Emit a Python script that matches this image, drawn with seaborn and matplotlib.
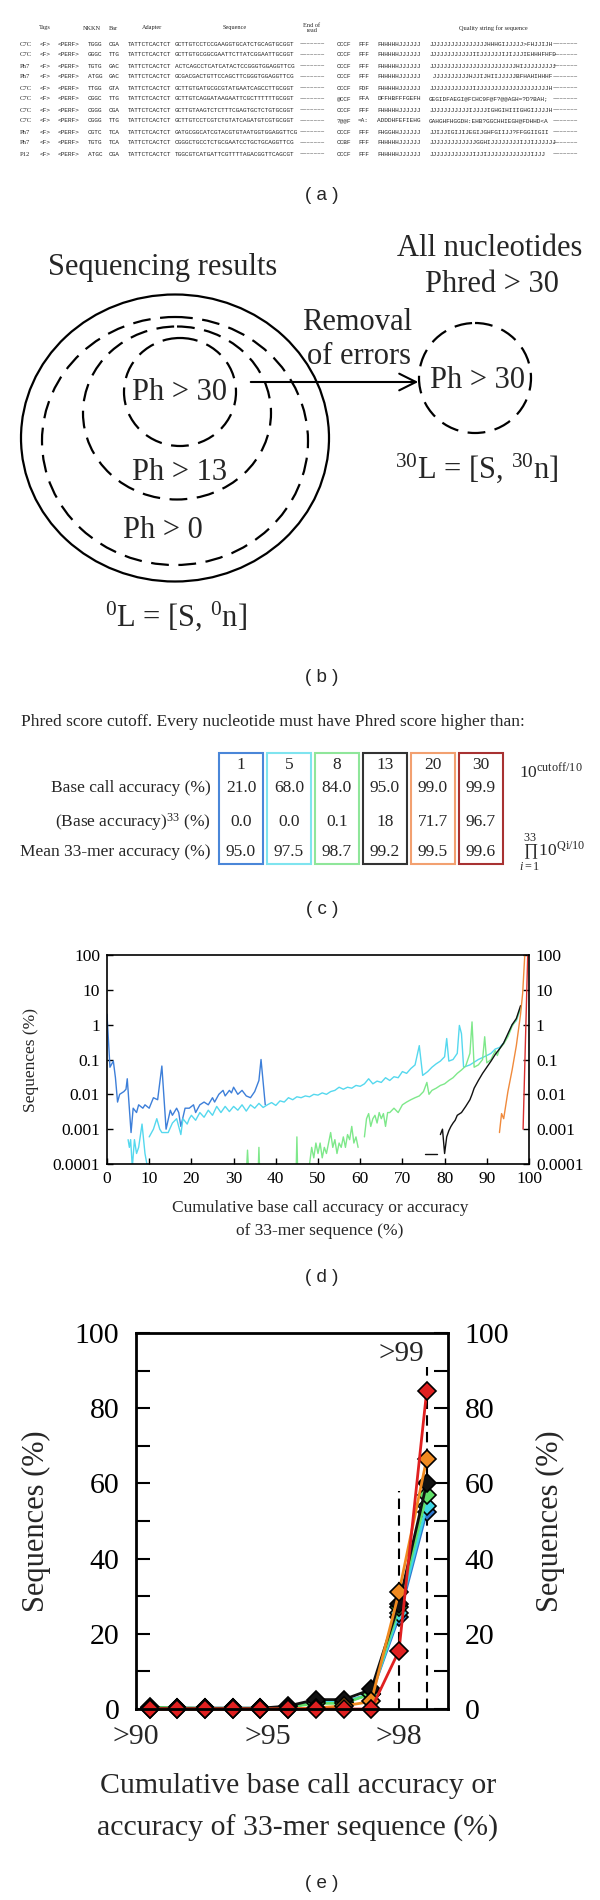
import matplotlib
matplotlib.use("Agg")
import matplotlib.pyplot as plt
from matplotlib.patches import Ellipse, Rectangle
from matplotlib.ticker import MultipleLocator
import seaborn as sns
import pandas as pd
import numpy as np

sns.set_theme(style="white")
plt.rcParams['font.family'] = ['Liberation Serif', 'DejaVu Serif']
plt.rcParams['mathtext.fontset'] = 'custom'
plt.rcParams['mathtext.rm'] = 'Liberation Serif'
plt.rcParams['mathtext.it'] = 'Liberation Serif:italic'

# ---------------- panel (a): sequencing reads
row_tags = ["C7C", "C7C", "Ph7", "Ph7", "C7C", "C7C", "C7C", "C7C", "Ph7", "Ph7", "P12"]
row_nkkn = ["TGGG", "GGGC", "TGTG", "ATGG", "TTGG", "CGGC", "CGGG", "CGGG", "CGTC", "TGTG", "ATGC"]
row_bar = ["CGA", "TTG", "GAC", "GAC", "GTA", "TTG", "CGA", "TTG", "TCA", "TCA", "CGA"]
row_seq = ["GCTTGTCCTCCGAAGGTGCATCTGCAGTGCGGT", "GCTTGTGCGGCGAATTCTTATCGGAATTGCGGT",
           "ACTCAGCCTCATCATACTCCGGGTGGAGGTTCG", "GCGACGACTGTTCCAGCTTCGGGTGGAGGTTCG",
           "GCTTGTGATGCGCGTATGAATCAGCCTTGCGGT", "GCTTGTCAGGATAAGAATTCGCTTTTTTGCGGT",
           "GCTTGTAAGTCTCTTTCGAGTGCTCTGTGCGGT", "GCTTGTCCTCGTCTGTATCAGATGTCGTGCGGT",
           "GATGCGGCATCGTACGTGTAATGGTGGAGGTTCG", "CGGGCTGCCTCTGCGAATCCTGCTGCAGGTTCG",
           "TGGCGTCATGATTCGTTTTAGACGGTTCAGCGT"]
row_q1 = ["CCCF", "CCCF", "CCCF", "CCCF", "CCCF", "@CCF", "CCCF", "?@@F", "CCCF", "CCBF", "CCCF"]
row_q2 = ["FFF", "FFF", "FFF", "FFF", "FDF", "FFA", "FFF", "=A:", "FFF", "FFF", "FFF"]
row_q3 = ["FHHHHHJJJJJJ", "FHHHHHJJJJJJ", "FHHHHHJJJJJJ", "FHHHHHJJJJJJ", "FHHHHHJJJJJJ",
          "DFFHBFFFGEFH", "FHHHHHJJJJJJ", "ADDDHFEFIEHG", "FHGGHHJJJJJJ", "FHHHHHJJJJJJ",
          "FHHHHHJJJJJJ"]
row_qual = ["JJJJJJJJJJJJJJJJHHHGIJJJJJ>FHJJIJH", "JJJJJJJJJJJJIIJJJJJJIJIJJJIEHHHFHFD",
            "JJJJJJJJJJJJJJJJJJJJJJJJHIJJJJJJJJJ", " JJJJJJJJJJHJJIJHIIJJJJJBFHAHIHHHF",
            "JJJJJJJJJJJJIJJJJJJJJJJJJJJJJJJJJH", "GEGIDFAEGI@FCHC9F@F?@@AGH=?D?BAH;",
            "JJJJJJJJJJJIJJJJIGHGIHIIIGHGIJJJJH", "GAHGHFHGGDH:EHB?GGCHHIEGH@FDHHD<A",
            "JJIJJIGIJIJEGIJGHFGIIJJ?FFGGIIGII", "JJJJJJJJJJJJJGGHIJJJJJJJJIJJIJJJJJJ",
            "JJJJJJJJJJJJIJJIJJJJJJJJJJJJIJJJ"]

# ---------------- panel (c): cutoff table
cutoffs = ["1", "5", "8", "13", "20", "30"]
base_call_acc = ["21.0", "68.0", "84.0", "95.0", "99.0", "99.9"]
base_acc_33 = ["0.0", "0.0", "0.1", "18", "71.7", "96.7"]
mean_33mer = ["95.0", "97.5", "98.7", "99.2", "99.5", "99.6"]
cut_colors = ["#4a86d8", "#7fe4ef", "#8fe69a", "#333333", "#f2a070", "#a83232"]

# ---------------- panel (d): sequence distribution per cutoff (NaN = gap)
nan = np.nan
d1_x = [0, 0.7, 1.5, 2, 2.5, 3, 4, 4.5, 4.8, 5.7, 6.2, 7, 7.5, 8.5, 9, 10, 11, 12, 13, 14, 15,
        15.5, 16.5, 17, 17.5, 18.5, 19.5, 20.5, 21, 22, 23, 24, 25, 25.5, 26.5, 27.5, 28, 29,
        29.5, 30, 31, 32, 33, 34, 35, 36, 36.5, 37.5]
d1_y = [2, 0.06, 0.09, 0.03, 0.006, 0.01, 0.012, 0.014, 0.028, 0.0008, 0.004, 0.003, 0.005,
        0.004, 0.005, 0.004, 0.008, 0.007, 0.065, 0.001, 0.0035, 0.0025, 0.004, 0.003, 0.0012,
        0.004, 0.004, 0.005, 0.003, 0.005, 0.006, 0.005, 0.008, 0.006, 0.01, 0.013, 0.009,
        0.013, 0.011, 0.016, 0.01, 0.013, 0.009, 0.008, 0.012, 0.025, 0.1, 0.005]
d5_x = [5, 5.3, 5.6, 6, 6.5, 7, 7.5, 8.3, 9, 9.6, nan,
        10, 11, 11.8, 12.5, 13, 14, 14.5, 15.5, 16.5, 17.5, 18, 19, 19.5, 20, 21, 22, 23, 24,
        25, 26, 27, 28, 29, 30, 31, 32, 33, 34, 35, 36, 37, 38, 39, 40, 41, 42, 43, 44, 45,
        46, 47, 48, 49, 50, 51, 52, 53, 54, 55, 56, 57, 58, 59, 60, 61, 62, 63, 64, 65, 66,
        67, 68, 69, 70, 71, 72, 73, 74, 74.8, 76, 77, 78, 79, 80, 80.5, 81, 82, 83, 83.5, 84,
        84.5, 86, 88, 90, 91, 92, 93, 94, 95, 96, 97, 98]
d5_y = [0.0005, 0.0003, 0.0005, 0.00008, 0.0005, 0.0002, 0.0003, 0.0014, 0.0002, 0.00008, nan,
        0.0006, 0.001, 0.002, 0.001, 0.0008, 0.0008, 0.0008, 0.0015, 0.002, 0.0007, 0.002,
        0.0014, 0.002, 0.0025, 0.0018, 0.003, 0.0022, 0.0035, 0.0025, 0.0045, 0.003, 0.0045,
        0.0032, 0.0045, 0.0035, 0.005, 0.0033, 0.005, 0.004, 0.0055, 0.0042, 0.005, 0.0058,
        0.0048, 0.0065, 0.006, 0.008, 0.007, 0.0085, 0.008, 0.009, 0.0085, 0.01, 0.0095,
        0.011, 0.01, 0.012, 0.013, 0.016, 0.014, 0.016, 0.015, 0.018, 0.017, 0.02, 0.028,
        0.02, 0.024, 0.022, 0.03, 0.025, 0.032, 0.03, 0.045, 0.04, 0.055, 0.07, 0.25, 0.035,
        0.045, 0.06, 0.075, 0.09, 0.12, 0.4, 0.09, 0.1, 0.15, 0.95, 0.55, 0.06, 0.07, 0.1,
        0.13, 0.15, 0.2, 0.22, 0.3, 0.5, 1.0, 1.3, 3.0]
d8_x = [33, 33.3, 33.6, nan, 35.8, 36, 36.2, nan, 44.8, 45, 45.2, nan,
        48, 48.5, 49, 49.5, 50, 50.5, 51, 51.5, 52, 52.5, 53, 53.5, 54, 54.5, 55, 55.5, 56,
        56.5, 57, 57.5, 58, 58.5, 59, 59.5, nan,
        61, 61.5, 62, 62.5, 63, 63.5, 64, 64.5, 65, 65.5, 66, 66.5, 67, 68, 69, 70, 71, 72,
        73, 74, 75, 75.8, 76.3, 77, 78, 79, 80, 81, 82, 83, 84, 85, 86, 86.5, 87, 88, 89,
        89.5, 90, 91, 92, 92.5, 93, 94, 95, 96, 97, 98]
d8_y = [0.00005, 0.00025, 0.00005, nan, 0.00005, 0.0003, 0.00005, nan, 0.00005, 0.0006,
        0.00005, nan,
        0.0001, 0.0003, 0.00015, 0.0004, 0.0002, 0.0004, 0.00015, 0.0003, 0.0002, 0.0004,
        0.0008, 0.0003, 0.0005, 0.0002, 0.0004, 0.0003, 0.0006, 0.0003, 0.0007, 0.0005,
        0.0012, 0.0004, 0.0006, 0.0003, nan,
        0.0006, 0.002, 0.0028, 0.0012, 0.002, 0.0025, 0.0015, 0.003, 0.002, 0.0028, 0.0012,
        0.003, 0.003, 0.004, 0.003, 0.005, 0.006, 0.007, 0.008, 0.009, 0.012, 0.022, 0.01,
        0.013, 0.015, 0.018, 0.02, 0.025, 0.03, 0.04, 0.05, 0.065, 0.15, 1.2, 0.06, 0.07,
        0.1, 0.45, 0.08, 0.1, 0.18, 0.13, 0.2, 0.28, 0.45, 0.9, 1.4, 3.0]
d13_x = [75.4, 78.2, nan, 79, 79.5, 80, 80.5, 81, 81.5, 82, 82.5, 83, 84, 85, 86, 86.5, 87,
         88, 89, 90, 91, 92, 93, 94, 95, 96, 97, 98]
d13_y = [0.0002, 0.0002, nan, 0.0007, 0.001, 0.0002, 0.0006, 0.0009, 0.0012, 0.0015, 0.0018,
         0.0025, 0.003, 0.0045, 0.007, 0.01, 0.015, 0.025, 0.04, 0.06, 0.09, 0.14, 0.2, 0.3,
         0.55, 1.0, 1.5, 3.5]
d20_x = [93, 93.5, 94, 95, 96, 97, 98, 98.5, 99]
d20_y = [0.0008, 0.0028, 0.002, 0.012, 0.05, 0.25, 2, 8, 100]
d30_x = [98.6, 99.7]
d30_y = [0.001, 100]
d_colors = ["#3d7fd9", "#55d8ee", "#7ee88a", "#111111", "#f08a3c", "#d93030"]
d_ticks = [0.0001, 0.001, 0.01, 0.1, 1, 10, 100]
d_ticklabels = ["0.0001", "0.001", "0.01", "0.1", "1", "10", "100"]

# ---------------- panel (e): zoom on >90 %
e_pos = list(range(11))
e_blue = [0.3, 0.2, 0.2, 0.2, 0.2, 0.5, 1.8, 1.8, 4.0, 24.5, 52.5]
e_cyan = [0.3, 0.2, 0.2, 0.2, 0.2, 0.5, 1.8, 1.8, 4.0, 25.5, 54.0]
e_green = [0.5, 0.3, 0.2, 0.2, 0.2, 0.5, 1.5, 1.5, 4.0, 27.0, 57.0]
e_black = [0.2, 0.2, 0.2, 0.2, 0.2, 0.8, 2.5, 2.5, 5.2, 28.0, 60.0]
e_orange = [0.0, 0.0, 0.0, 0.0, 0.0, 0.0, 0.3, 0.8, 2.0, 31.0, 66.5]
e_red = [0.0, 0.0, 0.0, 0.0, 0.0, 0.0, 0.0, 0.0, 0.0, 15.5, 84.5]
e_colors = ["#2f78d0", "#3fd7e6", "#62e06a", "#111111", "#f08a20", "#e02020"]
e_xticks = [-0.5, 4.25, 9.0]
e_xticklabels = [">90", ">95", ">98"]

fig = plt.figure(figsize=(6, 19), dpi=100)
bg = fig.add_axes([0, 0, 1, 1], zorder=0)
bg.set_xlim(0, 600)
bg.set_ylim(1900, 0)
bg.axis('off')


def axes_px(left, top, right, bottom):
    return fig.add_axes([left / 600, 1 - bottom / 1900, (right - left) / 600, (bottom - top) / 1900])


sans = 'Liberation Sans'
mono = 'Liberation Mono'
lab_x = 322
lab_fs = 13.5

# ---- (a)
hdr = dict(fontsize=4.5, ha='center', va='center')
bg.text(45, 28, "Tags", **hdr)
bg.text(92, 28, "NKKN", **hdr)
bg.text(113, 28, "Bar", **hdr)
bg.text(152, 28, "Adapter", **hdr)
bg.text(235, 28, "Sequence", **hdr)
bg.text(312, 28, "End of\nread", linespacing=0.9, **hdr)
bg.text(493, 28, "Quality string for sequence", **hdr)
mk = dict(family=mono, fontsize=4.4, va='center', ha='left')
for i in range(len(row_tags)):
    y = 44 + 11 * i
    bg.text(20, y, row_tags[i], fontsize=4.8, va='center', ha='left')
    bg.text(40, y, "<F>", **mk)
    bg.text(58, y, "<PERF>", **mk)
    bg.text(88, y, row_nkkn[i], **mk)
    bg.text(109, y, row_bar[i], **mk)
    bg.text(128, y, "TATTCTCACTCT", **mk)
    bg.text(175, y, row_seq[i], **mk)
    bg.text(300, y, "~~~~~~~", **mk)
    bg.text(337, y, row_q1[i], **mk)
    bg.text(358, y, row_q2[i], **mk)
    bg.text(377, y, row_q3[i], **mk)
    bg.text(429, y, row_qual[i], **mk)
    bg.text(553, y, "~~~~~~~", **mk)
bg.text(lab_x, 196, "( a )", family=sans, fontsize=lab_fs, ha='center', va='center')

# ---- (b)
big = 22
bg.text(163, 268, "Sequencing results", fontsize=big, ha='center', va='center')
bg.text(490, 248, "All nucleotides", fontsize=big, ha='center', va='center')
bg.text(492, 285, "Phred > 30", fontsize=big, ha='center', va='center')
bg.text(357, 322, "Removal", fontsize=big, ha='center', va='center')
bg.text(359, 356, "of errors", fontsize=big, ha='center', va='center')
dash = (0, (8, 4.3))
bg.add_patch(Ellipse((175, 438), 308, 287, fill=False, lw=1.6, ec='black'))
bg.add_patch(Ellipse((175, 441), 266, 248, fill=False, lw=1.6, ec='black', ls=dash))
bg.add_patch(Ellipse((177, 413), 188, 173, fill=False, lw=1.6, ec='black', ls=dash))
bg.add_patch(Ellipse((180, 392), 112, 108, fill=False, lw=1.6, ec='black', ls=dash))
bg.add_patch(Ellipse((475, 378), 112, 110, fill=False, lw=1.6, ec='black', ls=dash))
bg.annotate("", xy=(421, 382), xytext=(248, 382),
            arrowprops=dict(arrowstyle='->', lw=1.5, color='black', mutation_scale=30))
bg.text(180, 392, "Ph > 30", fontsize=big, ha='center', va='center')
bg.text(477, 380, "Ph > 30", fontsize=big, ha='center', va='center')
bg.text(180, 473, "Ph > 13", fontsize=big, ha='center', va='center')
bg.text(163, 530, "Ph > 0", fontsize=big, ha='center', va='center')
bg.text(477, 468, r"$^{30}$L = [S, $^{30}$n]", fontsize=big, ha='center', va='center')
bg.text(176, 616, r"$^{0}$L = [S, $^{0}$n]", fontsize=big, ha='center', va='center')
bg.text(lab_x, 677, "( b )", family=sans, fontsize=lab_fs, ha='center', va='center')

# ---- (c)
tf = 12.5
bg.text(21, 722, "Phred score cutoff. Every nucleotide must have Phred score higher than:",
        fontsize=tf, ha='left', va='center')
row_y = [765, 788, 822, 852]
bg.text(211, 788, "Base call accuracy (%)", fontsize=tf, ha='right', va='center')
bg.text(211, 822, r"(Base accuracy)$^{33}$ (%)", fontsize=tf, ha='right', va='center')
bg.text(211, 852, "Mean 33-mer accuracy (%)", fontsize=tf, ha='right', va='center')
for i, col in enumerate(cut_colors):
    x0 = 219 + 47.9 * i
    bg.add_patch(Rectangle((x0, 753), 44, 111, fill=False, ec=col, lw=1.5))
    xc = x0 + 22
    for y, vals in zip(row_y, [cutoffs, base_call_acc, base_acc_33, mean_33mer]):
        bg.text(xc, y, vals[i], fontsize=tf, ha='center', va='center')
bg.text(519, 772, r"$10^{\mathrm{cutoff}/10}$", fontsize=tf, ha='left', va='center')
bg.text(519, 852, r"$\prod_{i=1}^{33}10^{\mathrm{Qi}/10}$", fontsize=tf, ha='left', va='center')
bg.text(lab_x, 910, "( c )", family=sans, fontsize=lab_fs, ha='center', va='center')

# ---- (d)
axd = axes_px(107, 955, 529, 1164)
for xs, ys, col in zip([d1_x, d5_x, d8_x, d13_x, d20_x, d30_x],
                       [d1_y, d5_y, d8_y, d13_y, d20_y, d30_y], d_colors):
    df = pd.DataFrame({"x": xs, "y": ys})
    df["seg"] = df["y"].isna().cumsum()
    df = df.dropna()
    sns.lineplot(data=df, x="x", y="y", units="seg", estimator=None, sort=False,
                 color=col, lw=1.0, ax=axd, legend=False)
axd.set_yscale('log')
axd.set_ylim(1e-4, 100)
axd.set_xlim(0, 100)
axd.set_yticks(d_ticks)
axd.set_yticklabels(d_ticklabels)
axd.minorticks_off()
axd.set_xticks(range(0, 101, 10))
axd.set_xlabel("")
axd.set_ylabel("")
axd.tick_params(direction='in', length=4, width=1, labelsize=12.5, right=True,
                labelright=True, left=True, bottom=True, colors='black', pad=5)
for s in axd.spines.values():
    s.set_color('black')
    s.set_linewidth(1.2)
bg.text(31, 1060, "Sequences (%)", fontsize=12.5, rotation=90, ha='center', va='center')
bg.text(320, 1208, "Cumulative base call accuracy or accuracy", fontsize=12.5, ha='center', va='center')
bg.text(320, 1231, "of 33-mer sequence (%)", fontsize=12.5, ha='center', va='center')
bg.text(lab_x, 1277, "( d )", family=sans, fontsize=lab_fs, ha='center', va='center')

# ---- (e)
axe = axes_px(136, 1333, 448, 1709)
for ys, col in zip([e_blue, e_cyan, e_green, e_black, e_orange, e_red], e_colors):
    sns.lineplot(x=e_pos, y=ys, color=col, lw=2, marker='D', markersize=9,
                 markeredgecolor='black', markeredgewidth=1.2, ax=axe, clip_on=False)
axe.plot([9, 9], [0, 58], ls=(0, (5, 3)), color='black', lw=1.5, zorder=1)
axe.plot([10, 10], [0, 91], ls=(0, (5, 3)), color='black', lw=1.5, zorder=1)
axe.text(9.1, 94.3, ">99", fontsize=21, ha='center', va='center')
axe.set_xlim(-0.49, 10.77)
axe.set_ylim(0, 100)
axe.set_xticks([])
axe.set_yticks(range(0, 101, 20))
axe.yaxis.set_minor_locator(MultipleLocator(10))
axe.tick_params(axis='y', which='both', direction='in', length=10, width=1.5, labelsize=21.5,
                left=True, right=True, labelright=True, colors='black', pad=12)
for s in axe.spines.values():
    s.set_color('black')
    s.set_linewidth(2)
for xv, lab in zip(e_xticks, e_xticklabels):
    axe.text(xv, -4, lab, fontsize=21.5, ha='center', va='top')
bg.text(36, 1521, "Sequences (%)", fontsize=22, rotation=90, ha='center', va='center')
bg.text(550, 1521, "Sequences (%)", fontsize=22, rotation=90, ha='center', va='center')
bg.text(298, 1786, "Cumulative base call accuracy or", fontsize=21.5, ha='center', va='center')
bg.text(298, 1828, "accuracy of 33-mer sequence (%)", fontsize=21.5, ha='center', va='center')
bg.text(lab_x, 1884, "( e )", family=sans, fontsize=lab_fs, ha='center', va='center')

fig.savefig("out.png", dpi=100)
